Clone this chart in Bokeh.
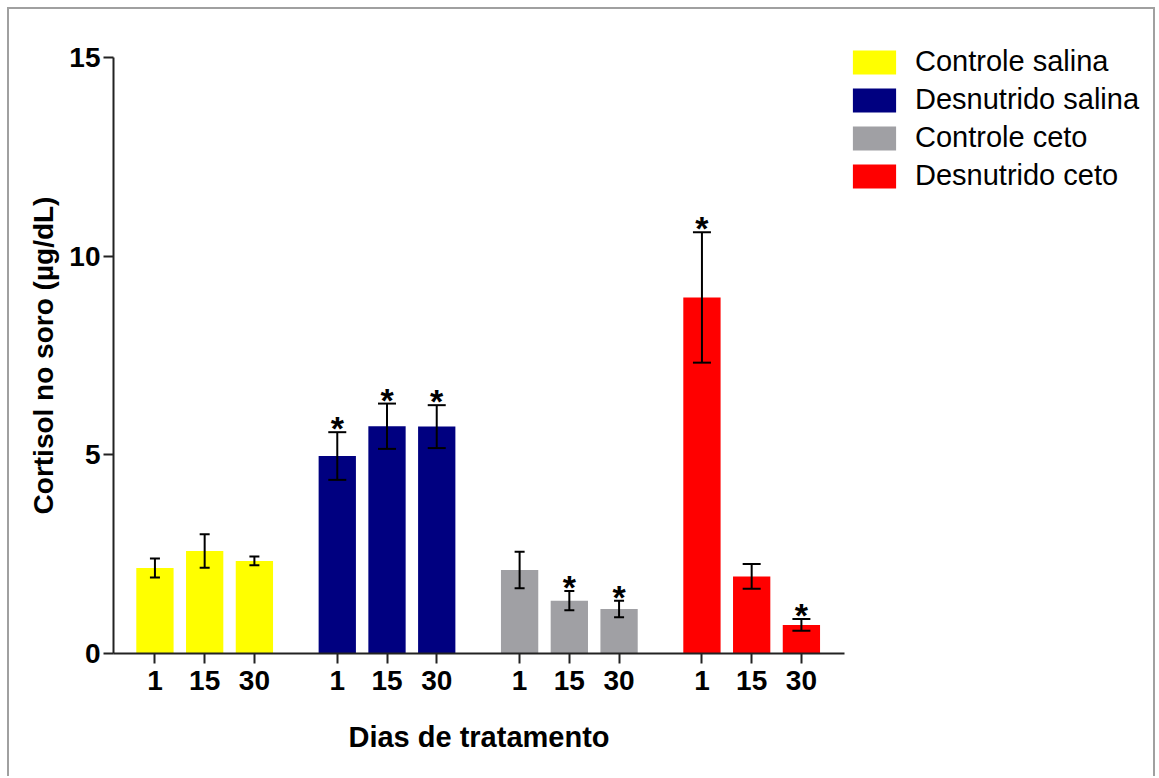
from bokeh.plotting import figure
from bokeh.models import (ColumnDataSource, Whisker, TeeHead, Range1d, FixedTicker,
                          Legend, LegendItem)
from bokeh.core.properties import value
from bokeh.embed import file_html
from bokeh.resources import INLINE

# ---- data ----
groups = ["Controle salina", "Desnutrido salina", "Controle ceto", "Desnutrido ceto"]
days = ["1", "15", "30"]
colors = ["#FFFF00", "#000080", "#A0A0A4", "#FF0000"]

mean_controle_salina = [2.15, 2.58, 2.33]
sem_controle_salina = [0.24, 0.42, 0.11]
mean_desnutrido_salina = [4.97, 5.72, 5.71]
sem_desnutrido_salina = [0.60, 0.57, 0.54]
mean_controle_ceto = [2.10, 1.33, 1.12]
sem_controle_ceto = [0.46, 0.24, 0.21]
mean_desnutrido_ceto = [8.96, 1.94, 0.72]
sem_desnutrido_ceto = [1.64, 0.31, 0.15]

sig_controle_salina = [False, False, False]
sig_desnutrido_salina = [True, True, True]
sig_controle_ceto = [False, True, True]
sig_desnutrido_ceto = [True, False, True]

y_ticks = [0, 5, 10, 15]

means = [mean_controle_salina, mean_desnutrido_salina, mean_controle_ceto, mean_desnutrido_ceto]
sems = [sem_controle_salina, sem_desnutrido_salina, sem_controle_ceto, sem_desnutrido_ceto]
sigs = [sig_controle_salina, sig_desnutrido_salina, sig_controle_ceto, sig_desnutrido_ceto]
cap_sizes = [10, 18, 10, 18]

FONT = "Liberation Sans"
BAR_STEP = 3
GROUP_STEP = 11

p = figure(width=1148, height=769, output_backend="svg", toolbar_location=None,
           x_range=Range1d(-2.5, 41.6), y_range=Range1d(0, 15),
           min_border_left=104, min_border_right=313, min_border_top=48,
           min_border_bottom=125)
p.styles = {"border-top": "2px solid #A0A0A0", "border-left": "2px solid #A0A0A0",
            "border-right": "2px solid #A0A0A0", "margin-left": "7px", "margin-top": "7px"}
p.outline_line_color = None
p.xgrid.visible = False
p.ygrid.visible = False
p.background_fill_color = "white"
p.border_fill_color = "white"

# small panel laid over the right margin that carries the legend;
# its ranges lie far from the data, so its renderers only feed the legend swatches
lp = figure(width=305, height=200, output_backend="svg", toolbar_location=None,
            x_axis_type=None, y_axis_type=None,
            x_range=Range1d(1000, 1001), y_range=Range1d(1000, 1001),
            min_border_left=0, min_border_right=0, min_border_top=0, min_border_bottom=0)
lp.styles = {"position": "absolute", "left": "844px", "top": "9px"}
lp.outline_line_color = None
lp.xgrid.visible = False
lp.ygrid.visible = False
lp.background_fill_color = "white"
lp.border_fill_color = "white"

tick_pos = []
overrides = {}
legend_items = []
for g, name in enumerate(groups):
    xs = [g * GROUP_STEP + i * BAR_STEP for i in range(len(days))]
    m = means[g]
    s = sems[g]
    src = ColumnDataSource(dict(
        x=xs, top=m,
        upper=[a + b for a, b in zip(m, s)],
        lower=[a - b for a, b in zip(m, s)],
    ))
    p.vbar(x="x", top="top", bottom=0, width=2.25, source=src,
           fill_color=colors[g], line_color=None)
    lr = lp.vbar(x="x", top="top", bottom=0, width=0.01, source=src,
                 fill_color=colors[g], line_color=None, line_alpha=0)
    legend_items.append(LegendItem(label=name, renderers=[lr]))
    wk = Whisker(base="x", upper="upper", lower="lower", source=src,
                 line_color="black", line_width=2, level="overlay",
                 upper_head=TeeHead(size=cap_sizes[g], line_width=2, line_color="black"),
                 lower_head=TeeHead(size=cap_sizes[g], line_width=2, line_color="black"))
    p.add_layout(wk)
    sx = [x for x, f in zip(xs, sigs[g]) if f]
    sy = [a + b for a, b, f in zip(m, s, sigs[g]) if f]
    if sx:
        ssrc = ColumnDataSource(dict(x=sx, y=sy, t=["*"] * len(sx)))
        p.text(x="x", y="y", text="t", source=ssrc, text_font=value(FONT),
               text_font_style="bold", text_font_size="34px", text_align="center",
               text_baseline="alphabetic", y_offset=-4, text_color="black")
    for x, d in zip(xs, days):
        tick_pos.append(x)
        overrides[x] = d

# axes
for ax in (p.xaxis[0], p.yaxis[0]):
    ax.axis_line_width = 2
    ax.axis_line_color = "#222222"
    ax.major_tick_line_width = 2
    ax.major_tick_line_color = "#222222"
    ax.major_tick_out = 10
    ax.major_tick_in = 0
    ax.minor_tick_out = 0
    ax.minor_tick_in = 0
    ax.major_label_text_font = FONT
    ax.major_label_text_font_style = "bold"
    ax.major_label_text_font_size = "28px"
    ax.major_label_text_color = "black"
    ax.axis_label_text_font = FONT
    ax.axis_label_text_font_style = "bold"
    ax.axis_label_text_color = "black"

p.xaxis.ticker = FixedTicker(ticks=tick_pos)
p.xaxis.major_label_overrides = overrides
p.xaxis.major_label_standoff = 7
p.xaxis.axis_label = "Dias de tratamento"
p.xaxis.axis_label_text_font_size = "29px"
p.xaxis.axis_label_standoff = 28

p.yaxis.ticker = FixedTicker(ticks=y_ticks)
p.yaxis.major_label_standoff = 3
p.yaxis.axis_label = "Cortisol no soro (µg/dL)"
p.yaxis.axis_label_text_font_size = "28px"
p.yaxis.axis_label_standoff = 7

legend = Legend(items=legend_items, location=(3, 17), glyph_width=54, glyph_height=30,
                label_text_font=FONT, label_text_font_size="29px", label_text_color="black",
                label_standoff=14, spacing=5, padding=0, margin=0,
                border_line_color=None, background_fill_alpha=0, label_height=30)
lp.add_layout(legend)

open("out.html", "w").write(file_html([p, lp], INLINE))
